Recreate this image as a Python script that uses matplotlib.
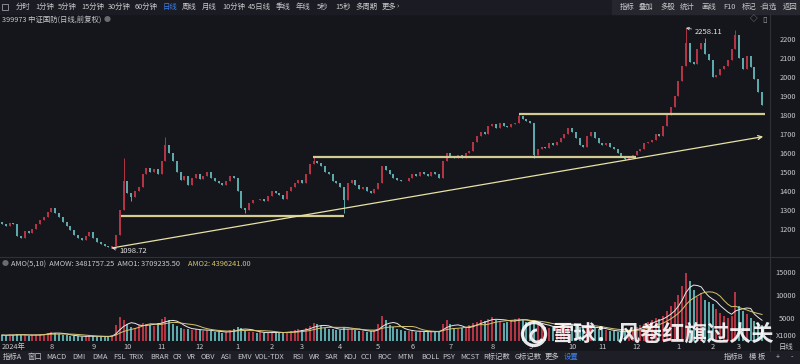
import numpy as np
import pandas as pd
import matplotlib.pyplot as plt
from matplotlib.patches import Rectangle, Circle, Arc
from matplotlib.lines import Line2D

plt.rcParams['font.family'] = ['Noto Sans CJK SC', 'DejaVu Sans']

# closing prices, one bar per ~2 trading days (Jul 2024 .. Mar 2026)
closes = [
    1225, 1215, 1230, 1225, 1165, 1150, 1190, 1180, 1200, 1225,
    1245, 1265, 1290, 1310, 1285, 1265, 1235, 1215, 1195, 1170,
    1150, 1140, 1165, 1185, 1150, 1130, 1120, 1112, 1105, 1110,
    1170, 1300, 1450, 1390, 1370, 1400, 1420, 1490, 1520, 1500,
    1515, 1490, 1560, 1640, 1600, 1560, 1500, 1460, 1480, 1430,
    1470, 1490, 1465, 1480, 1500, 1470, 1450, 1440, 1430, 1450,
    1480, 1470, 1400, 1310, 1300, 1335, 1355, 1350, 1360, 1345,
    1375, 1400, 1390, 1380, 1360, 1400, 1420, 1440, 1460, 1440,
    1490, 1540, 1560, 1545, 1530, 1500, 1490, 1450, 1440, 1420,
    1350, 1440, 1460, 1430, 1410, 1420, 1400, 1390, 1410, 1440,
    1530, 1510, 1490, 1470, 1460, 1455, 1450, 1470, 1490, 1480,
    1500, 1490, 1480, 1500, 1490, 1470, 1560, 1600, 1580, 1575,
    1590, 1575, 1600, 1610, 1660, 1690, 1710, 1700, 1740, 1750,
    1730, 1760, 1740, 1735, 1755, 1760, 1795, 1780, 1770, 1760,
    1590, 1620, 1630, 1625, 1650, 1640, 1660, 1680, 1700, 1730,
    1710, 1680, 1640, 1630, 1690, 1710, 1680, 1650, 1640, 1650,
    1630, 1620, 1600, 1580, 1570, 1575, 1590, 1610, 1620, 1650,
    1660, 1670, 1700, 1690, 1740, 1800, 1840, 1900, 1980, 2060,
    2180, 2080, 2070, 2150, 2180, 2120, 2090, 2000, 2010, 2040,
    2060, 2090, 2150, 2220, 2100, 2040, 2110, 2050, 1990, 1920,
    1850,
]
first_open = 1235
wick_hi = {32: 1575, 43: 1684, 82: 1582, 136: 1812, 180: 2258.11, 185: 2205, 193: 2245}
wick_lo = {29: 1098.72, 34: 1345, 64: 1282, 90: 1285, 140: 1572, 164: 1562}

# turnover, x1000
vols = [
    1300, 1200, 1400, 1300, 1500, 1400, 1200, 1100, 1300, 1400,
    1500, 1600, 1800, 2000, 1700, 1500, 1300, 1200, 1100, 1000,
    1000, 900, 1100, 1200, 1000, 900, 900, 1000, 1100, 1400,
    3500, 5200, 4600, 3600, 3000, 2800, 3400, 4000, 3800, 3500,
    3300, 4000, 4800, 5300, 4500, 3800, 3200, 2800, 2600, 2500,
    2400, 2600, 2300, 2200, 2400, 2100, 2000, 1900, 1800, 2000,
    2300, 2500, 3000, 2800, 2400, 2000, 1900, 1800, 1900, 1700,
    1800, 2000, 1900, 1800, 1700, 2000, 2100, 2300, 2500, 2400,
    2800, 3200, 4000, 3600, 3200, 2900, 2700, 2500, 2400, 2300,
    3000, 2700, 2600, 2400, 2200, 2100, 2000, 2100, 2300, 3600,
    5500, 4500, 3500, 3000, 2600, 2300, 2200, 2100, 2200, 2000,
    2100, 2000, 1900, 2100, 2000, 2200, 3800, 4600, 3600, 2900,
    2600, 2800, 3000, 3400, 3900, 4200, 4600, 4300, 4800, 5300,
    4600, 4400, 4000, 4200, 4500, 4700, 5100, 4600, 4200, 3800,
    4500, 3600, 3200, 3000, 2900, 3100, 3300, 3600, 3800, 3900,
    3600, 3300, 3000, 2800, 3000, 3200, 2900, 2600, 2400, 2300,
    2200, 2100, 2000, 2100, 2200, 2300, 2600, 3000, 3400, 3800,
    4200, 4600, 5000, 4800, 5400, 6500, 7500, 8500, 10000, 12000,
    14800, 13000, 11000, 9500, 10500, 9000, 8500, 8000, 7000, 6000,
    5500, 5000, 5500, 10600, 7500, 6500, 5800, 5000, 4400, 3900,
    3480,
]

month_idx = [3, 13, 24, 33, 42, 52, 62, 71, 79, 89, 99, 108, 118, 129, 139, 150, 158, 167, 178, 187, 194]
month_lbl = ['2024年', '8', '9', '10', '11', '12', '1', '2', '3', '4', '5', '6',
             '7', '8', '9', '10', '11', '12', '1', '2', '3']
price_ticks = [1200, 1300, 1400, 1500, 1600, 1700, 1800, 1900, 2000, 2100, 2200]
vol_ticks = [5000, 10000, 15000]

# user-drawn lines: (start idx, end idx, level) and trend line
support_lines = [(31.3, 90, 1270), (81.8, 166.8, 1577), (136, 200.8, 1805)]
trend_pts = [(28.9, 1100), (200.3, 1686)]

top_items = [(16, '分时'), (35, '1分钟'), (58, '5分钟'), (81, '15分钟'), (108, '30分钟'),
             (135, '60分钟'), (163, '日线'), (182, '周线'), (202, '月线'), (222, '10分钟'),
             (248, '45日线'), (276, '季线'), (296, '年线'), (317, '5秒'), (335, '15秒'),
             (355, '多周期'), (382, '更多'), (397, '›')]
right_items = [(620, '指标'), (639, '叠加'), (660, '多股'), (680, '统计'), (701, '画线'),
               (723, 'F10'), (742, '标记'), (760, '-自选'), (783, '返回')]
bottom_items = [(3, '指标A'), (27, '窗口'), (46, 'MACD'), (72, 'DMI'), (92, 'DMA'), (113, 'FSL'),
                (129, 'TRIX'), (150, 'BRAR'), (173, 'CR'), (187, 'VR'), (201, 'OBV'), (221, 'ASI'),
                (237, 'EMV'), (255, 'VOL-TDX'), (292, 'RSI'), (309, 'WR'), (325, 'SAR'), (343, 'KDJ'),
                (361, 'CCI'), (377, 'ROC'), (397, 'MTM'), (421, 'BOLL'), (442, 'PSY'), (460, 'MCST'),
                (483, 'R标记数'), (515, 'G标记数'), (545, '更多'), (564, '设置'),
                (724, '指标B'), (749, '模 板'), (776, '+'), (791, '-')]

BG = '#15161c'
UP = '#b23445'
DN = '#5ca8ab'
TXT = '#c8c8cc'
BLUE = '#3d7fe6'
LINE = '#d2cb92'
W, H = 800, 364


def fx(x):
    return x / W


def fy(y):
    return 1 - y / H


fig = plt.figure(figsize=(8, 3.64), dpi=100, facecolor=BG)

# toolbars
fig.add_artist(Rectangle((0, fy(14)), 1, 14 / H, transform=fig.transFigure, color='#1b1c23', zorder=0))
fig.add_artist(Rectangle((fx(612), fy(14)), 1 - fx(612), 14 / H, transform=fig.transFigure, color='#26272e', zorder=0))
fig.add_artist(Rectangle((0, 0), 1, 13 / H, transform=fig.transFigure, color='#1e1f26', zorder=0))
fig.add_artist(Line2D([fx(770)] * 2, [fy(14), fy(351)], color='#2f3038', lw=0.8))
fig.add_artist(Line2D([0, 1], [fy(256.5)] * 2, color='#2f3038', lw=0.8))

for x, t in top_items:
    fig.text(fx(x), fy(7), t, fontsize=5.3, color=BLUE if t == '日线' else TXT, va='center')
for x, t in right_items:
    fig.text(fx(x), fy(7), t, fontsize=5.3, color=TXT, va='center')
for x, t in bottom_items:
    fig.text(fx(x), fy(357), t, fontsize=5.3, color=BLUE if t == '设置' else TXT, va='center')
fig.add_artist(Rectangle((fx(2), fy(10)), 6 / W, 6 / H, transform=fig.transFigure,
                         fill=False, ec='#9a9aa0', lw=0.6))

fig.text(fx(2), fy(19.5), '399973 中证国防(日线,前复权)', fontsize=5.3, color=TXT, va='center')
fig.text(fx(104), fy(19.5), '●', fontsize=5, color='#6a6a72', va='center')
fig.text(fx(750), fy(19.5), '◇', fontsize=5.5, color='#9a9aa0', va='center')
fig.text(fx(762), fy(19.5), '▯', fontsize=6, color='#9a9aa0', va='center')

# price panel
ax = fig.add_axes([0, (H - 255) / H, 770 / W, 233 / H])
ax_v = fig.add_axes([0, (H - 341) / H, 770 / W, 83 / H], sharex=ax)

idx = np.arange(len(closes))
opens = [first_open] + closes[:-1]
highs = [wick_hi.get(i, max(o, c)) for i, (o, c) in enumerate(zip(opens, closes))]
lows = [wick_lo.get(i, min(o, c)) for i, (o, c) in enumerate(zip(opens, closes))]
cols = [UP if c >= o else DN for o, c in zip(opens, closes)]
bodies = [max(abs(c - o), 3) for o, c in zip(opens, closes)]
bottoms = [min(o, c) for o, c in zip(opens, closes)]

ax.vlines(idx, lows, highs, colors=cols, lw=0.7)
ax.bar(idx, bodies, bottom=bottoms, width=0.55, color=cols)

for x0, x1, lvl in support_lines:
    ax.plot([x0, x1], [lvl, lvl], color=LINE, lw=1.6, solid_capstyle='butt')
ax.annotate('', xy=trend_pts[1], xytext=trend_pts[0],
            arrowprops=dict(arrowstyle='->', color='#e8e2a4', lw=0.9, shrinkA=0, shrinkB=0,
                            mutation_scale=7))

ax.annotate('2258.11', xy=(180, 2258.11), xytext=(6, -3), textcoords='offset points',
            fontsize=5.5, color='#e6e6e6', va='center',
            arrowprops=dict(arrowstyle='->', color='#e6e6e6', lw=0.5, shrinkA=0, shrinkB=0, mutation_scale=5))
ax.annotate('1098.72', xy=(29, 1098.72), xytext=(5, -2), textcoords='offset points',
            fontsize=5.5, color='#e6e6e6', va='center',
            arrowprops=dict(arrowstyle='->', color='#e6e6e6', lw=0.5, shrinkA=0, shrinkB=0, mutation_scale=5))

ax.set_xlim(-0.53, 202.1)
ax.set_ylim(1063, 2289.5)
ax.set_yticks(price_ticks)
ax.yaxis.tick_right()
ax.tick_params(axis='y', length=0, pad=18.5, labelsize=5.3, labelcolor=TXT)
for lab in ax.get_yticklabels():
    lab.set_ha('right')
ax.tick_params(axis='x', bottom=False, labelbottom=False)

# volume panel
ax_v.bar(idx, vols, width=0.55, color=cols)
vs = pd.Series(vols, dtype=float)
ax_v.plot(idx, vs.rolling(5, min_periods=1).mean(), color='#e8e8e8', lw=0.7)
ax_v.plot(idx, vs.rolling(10, min_periods=1).mean(), color='#d6c46a', lw=0.7)
ax_v.set_ylim(0, 18043)
ax_v.set_yticks(vol_ticks)
ax_v.yaxis.tick_right()
ax_v.tick_params(axis='y', length=0, pad=18.5, labelsize=5.3, labelcolor=TXT)
for lab in ax_v.get_yticklabels():
    lab.set_ha('right')
ax_v.set_xticks(month_idx)
ax_v.set_xticklabels(month_lbl)
ax_v.tick_params(axis='x', length=0, pad=1.5, labelsize=5.3, labelcolor=TXT)

for a in (ax, ax_v):
    a.set_facecolor(BG)
    for s in a.spines.values():
        s.set_visible(False)

fig.text(fx(797), fy(336), 'X1000', fontsize=5.3, color=TXT, va='center', ha='right')
fig.text(fx(779), fy(346.5), '日线', fontsize=5.3, color=TXT, va='center')

fig.text(fx(2), fy(264.5), '●', fontsize=5, color='#6a6a72', va='center')
fig.text(fx(11), fy(264.5), 'AMO(5,10)  AMOW: 3481757.25  AMO1: 3709235.50', fontsize=5.3,
         color=TXT, va='center')
fig.text(fx(188), fy(264.5), 'AMO2: 4396241.00', fontsize=5.3, color='#d6c46a', va='center')

# watermark
fig.add_artist(Circle((5.34, 3.64 - 3.34), 0.115, transform=fig.dpi_scale_trans,
                      fill=False, ec='white', lw=2.4, alpha=0.9))
fig.add_artist(Arc((5.37, 3.64 - 3.36), 0.12, 0.12, theta1=90, theta2=330,
                   transform=fig.dpi_scale_trans, ec='white', lw=2.2, alpha=0.9))
fig.text(fx(552), fy(334), '雪球：风卷红旗过大关', fontsize=16, color='white', alpha=0.9,
         va='center', fontweight='bold')

fig.savefig('out.png', dpi=100, facecolor=BG)
